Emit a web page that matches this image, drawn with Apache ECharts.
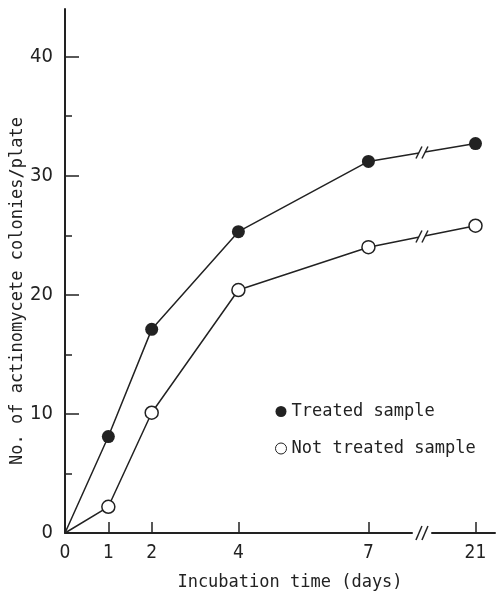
<!DOCTYPE html>
<html><head><meta charset="utf-8">
<script src="https://cdn.jsdelivr.net/npm/echarts@6/dist/echarts.min.js"></script>
<style>html,body{margin:0;padding:0;background:#fff}#c{width:496px;height:606px}</style>
</head><body><div id="c"></div>
<script>
const days = [0, 1, 2, 4, 7, 21];
const treated = [0, 8.1, 17.1, 25.3, 31.2, 32.7];
const notTreated = [0, 2.2, 10.1, 20.4, 24.0, 25.8];
const xTickValues = [0, 1, 2, 4, 7, 21];
const yMajorTicks = [0, 10, 20, 30, 40];
const yMinorTicks = [5, 15, 25, 35];
const axisBreak = { start: 8, end: 20, gap: 0.47 };
const seriesNames = ['Treated sample', 'Not treated sample'];

const INK = '#222';
const tickFont = "'Liberation Sans Narrow','DejaVu Sans Condensed',sans-serif";
const monoFont = "'DejaVu Sans Mono',monospace";

const chart = echarts.init(document.getElementById('c'), null, { renderer: 'canvas' });

function pts(vals) {
  return days.map((d, i) => ({ value: [d, vals[i]], symbol: d === 0 ? 'none' : 'circle' }));
}
const lineSets = [treated, notTreated];

function renderBreak(params, api) {
  const kind = api.value(1);
  const xs = api.coord([axisBreak.start, 0])[0];
  const xe = api.coord([axisBreak.end, 0])[0];
  const cx = (xs + xe) / 2;
  let cy, h;
  if (kind === 0) {
    cy = api.coord([0, 0])[1];
    h = 7;
  } else {
    const vals = lineSets[kind - 1];
    const n = days.length;
    const p1 = api.coord([days[n - 2], vals[n - 2]]);
    const p2 = api.coord([days[n - 1], vals[n - 1]]);
    cy = p1[1] + (p2[1] - p1[1]) * (cx - p1[0]) / (p2[0] - p1[0]);
    h = 6;
  }
  const sep = 3, sl = 3;
  const style = { stroke: INK, lineWidth: 1.5 };
  return {
    type: 'group',
    children: [
      { type: 'polygon', shape: { points: [[cx - sep - sl, cy + h], [cx - sep + sl, cy - h], [cx + sep + sl, cy - h], [cx + sep - sl, cy + h]] }, style: { fill: '#fff' } },
      { type: 'line', shape: { x1: cx - sep - sl, y1: cy + h, x2: cx - sep + sl, y2: cy - h }, style },
      { type: 'line', shape: { x1: cx + sep - sl, y1: cy + h, x2: cx + sep + sl, y2: cy - h }, style }
    ]
  };
}

const option = {
  animation: false,
  backgroundColor: '#fff',
  grid: { left: 65, right: 1, top: 9, bottom: 73, containLabel: false, outerBoundsMode: 'none' },
  legend: {
    orient: 'vertical', left: 270, top: 398, itemGap: 20,
    icon: 'circle', itemWidth: 11, itemHeight: 11,
    textStyle: { fontFamily: monoFont, fontSize: 17, color: INK },
    data: [
      { name: seriesNames[0], itemStyle: { color: INK, borderWidth: 0 } },
      { name: seriesNames[1], itemStyle: { color: '#fff', borderColor: INK, borderWidth: 1 } }
    ]
  },
  xAxis: {
    type: 'value', min: 0, max: 21.45,
    breaks: [axisBreak],
    breakArea: { show: false },
    name: 'Incubation time (days)', nameLocation: 'middle', nameGap: 41,
    nameTextStyle: { fontFamily: monoFont, fontSize: 17, color: INK, padding: [0, 0, 0, 20] },
    axisLine: { show: true, lineStyle: { color: INK, width: 2 } },
    axisTick: { show: true, inside: true, length: 11, customValues: xTickValues, lineStyle: { color: INK, width: 1.5 } },
    axisLabel: { customValues: xTickValues, margin: 11, fontFamily: tickFont, fontSize: 19, color: INK },
    splitLine: { show: false }
  },
  yAxis: [{
    type: 'value', min: 0, max: 44,
    name: 'No. of actinomycete colonies/plate', nameLocation: 'middle', nameGap: 39,
    nameMoveOverlap: false,
    nameTextStyle: { fontFamily: monoFont, fontSize: 17, color: INK, padding: [0, 40, 0, 0] },
    axisLine: { show: true, lineStyle: { color: INK, width: 2 } },
    axisTick: { show: true, inside: true, length: 14, customValues: yMajorTicks, lineStyle: { color: INK, width: 1.5 } },
    axisLabel: { customValues: yMajorTicks, margin: 12, fontFamily: tickFont, fontSize: 20, color: INK },
    splitLine: { show: false }
  }, {
    type: 'value', min: 0, max: 44, position: 'left', offset: 0,
    axisLine: { show: false },
    axisTick: { show: true, inside: true, length: 7, customValues: yMinorTicks, lineStyle: { color: INK, width: 1.5 } },
    axisLabel: { show: false },
    splitLine: { show: false }
  }],
  series: [
    {
      name: seriesNames[0], type: 'line', data: pts(treated),
      symbolSize: 13, z: 3,
      lineStyle: { color: INK, width: 1.5 },
      itemStyle: { color: INK, borderWidth: 0 }
    },
    {
      name: seriesNames[1], type: 'line', data: pts(notTreated),
      symbolSize: 13, z: 3,
      lineStyle: { color: INK, width: 1.5 },
      itemStyle: { color: '#fff', borderColor: INK, borderWidth: 1.5 }
    },
    {
      type: 'custom', renderItem: renderBreak, z: 4, silent: true,
      data: [[axisBreak.start, 0], [axisBreak.start, 1], [axisBreak.start, 2]]
    }
  ]
};
chart.setOption(option);
</script>
</body></html>
